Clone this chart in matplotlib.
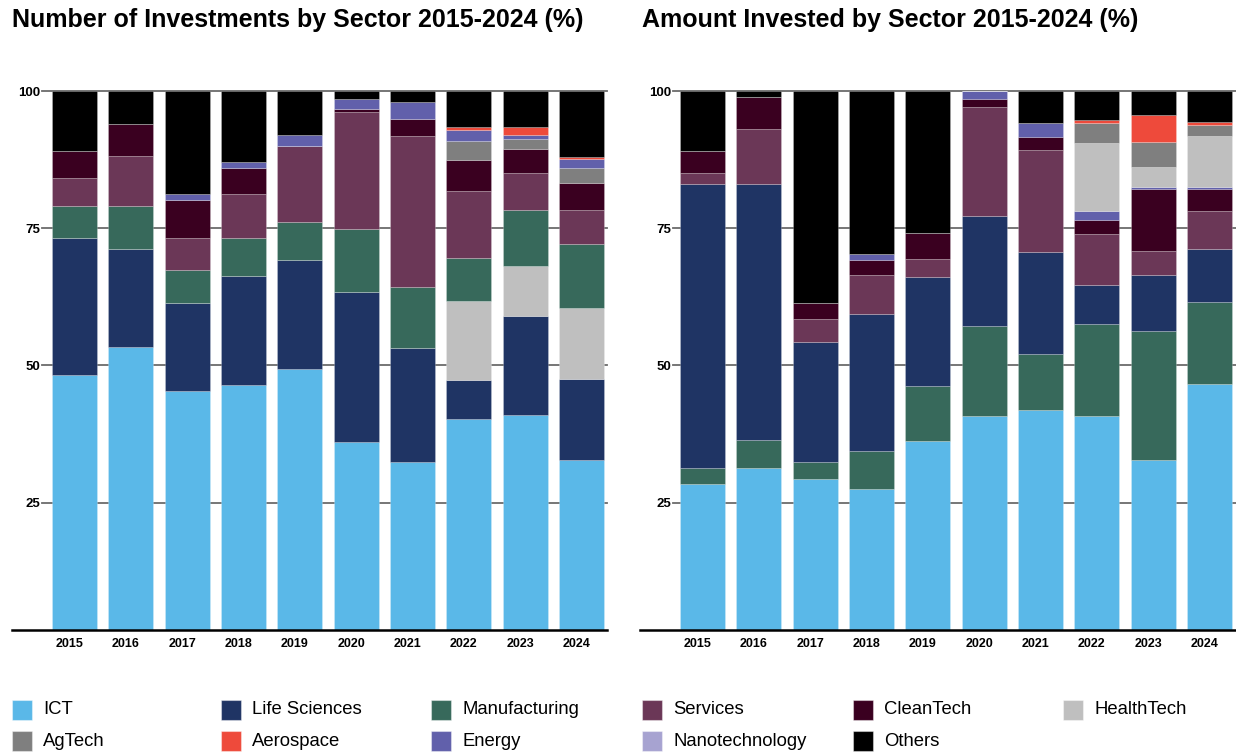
import matplotlib.pyplot as plt
import matplotlib.transforms as mtransforms
from matplotlib.patches import Rectangle
import numpy as np

plt.rcParams['font.family'] = ['Liberation Sans', 'DejaVu Sans']

years = ['2015', '2016', '2017', '2018', '2019', '2020', '2021', '2022', '2023', '2024']

colors = {
    'ICT': '#5ab8e8',
    'Life Sciences': '#1f3464',
    'Manufacturing': '#37695b',
    'Services': '#6b3757',
    'CleanTech': '#3a0020',
    'HealthTech': '#bfbfbf',
    'AgTech': '#7f7f7f',
    'Aerospace': '#ee4a3b',
    'Energy': '#6160ab',
    'Nanotechnology': '#a7a3d1',
    'Others': '#000000',
}

# share of number of investments, %
num_ict = [48.3, 53.3, 45.4, 46.4, 49.3, 36.0, 32.4, 40.3, 40.9, 32.7]
num_life = [24.9, 17.9, 15.9, 19.9, 19.9, 27.3, 20.8, 7.1, 18.1, 14.9]
num_health = [0, 0, 0, 0, 0, 0, 0, 14.4, 9.1, 12.9]
num_manuf = [5.9, 7.9, 6.0, 6.9, 7.0, 11.5, 11.1, 7.8, 10.2, 11.6]
num_serv = [5.1, 9.0, 6.0, 8.0, 13.8, 21.3, 27.5, 12.2, 6.8, 6.2]
num_clean = [4.9, 5.9, 6.8, 4.8, 0, 0.6, 3.1, 5.6, 4.4, 4.9]
num_ag = [0, 0, 0, 0, 0, 0, 0, 3.5, 1.7, 2.8]
num_energy = [0, 0, 1.1, 1.0, 2.0, 1.9, 3.1, 2.0, 0.8, 1.6]
num_aero = [0, 0, 0, 0, 0, 0, 0, 0.5, 1.4, 0.4]
num_other = [10.9, 6.0, 18.8, 13.0, 8.0, 1.4, 2.0, 6.6, 6.6, 12.0]

# share of amount invested, %
amt_ict = [28.4, 31.4, 29.4, 27.4, 36.3, 40.7, 41.9, 40.8, 32.7, 46.6]
amt_manuf = [3.0, 5.0, 3.0, 7.0, 10.0, 16.4, 10.2, 16.8, 23.5, 14.9]
amt_life = [51.7, 46.7, 21.9, 24.9, 19.9, 20.1, 18.5, 7.1, 10.2, 9.8]
amt_serv = [2.0, 10.0, 4.2, 7.1, 3.2, 19.8, 18.7, 9.2, 4.5, 6.8]
amt_clean = [4.0, 5.8, 2.9, 2.8, 4.8, 1.6, 2.4, 2.6, 11.3, 4.0]
amt_energy = [0, 0, 0, 1.1, 0, 1.4, 2.4, 1.6, 0.3, 0.4]
amt_health = [0, 0, 0, 0, 0, 0, 0, 12.4, 3.7, 9.3]
amt_ag = [0, 0, 0, 0, 0, 0, 0, 3.6, 4.5, 2.0]
amt_aero = [0, 0, 0, 0, 0, 0, 0, 0.6, 5.0, 0.6]
amt_other = [10.9, 1.1, 38.6, 29.7, 25.8, 0, 5.9, 5.3, 4.3, 5.6]

num_stack = [('ICT', num_ict), ('Life Sciences', num_life), ('HealthTech', num_health),
             ('Manufacturing', num_manuf), ('Services', num_serv), ('CleanTech', num_clean),
             ('AgTech', num_ag), ('Energy', num_energy), ('Aerospace', num_aero),
             ('Others', num_other)]
amt_stack = [('ICT', amt_ict), ('Manufacturing', amt_manuf), ('Life Sciences', amt_life),
             ('Services', amt_serv), ('CleanTech', amt_clean), ('Energy', amt_energy),
             ('HealthTech', amt_health), ('AgTech', amt_ag), ('Aerospace', amt_aero),
             ('Others', amt_other)]

W, H = 1236, 755
fig = plt.figure(figsize=(W / 100, H / 100), dpi=100)


def px_axes(x0, x1, ytop, ybot):
    return fig.add_axes([x0 / W, 1 - ybot / H, (x1 - x0) / W, (ybot - ytop) / H])


def draw_panel(ax, stack, xlim, base_left):
    x = np.arange(len(years))
    bottom = np.zeros(len(years))
    for name, vals in stack:
        vals = np.array(vals, dtype=float)
        ax.bar(x, vals, 0.8, bottom=bottom, color=colors[name],
               edgecolor=(1, 1, 1, 0.25), linewidth=0.6, zorder=2)
        bottom += vals
    for v in [25, 50, 75, 100]:
        ax.axhline(v, color='#6b6b6b', lw=1.3, zorder=0, clip_on=False)
    ax.plot([base_left, 1.0], [0, 0], transform=ax.transAxes, color='black',
            lw=1.8, clip_on=False, zorder=3)
    ax.set_xlim(*xlim)
    ax.set_ylim(1.8, 100)
    for s in ax.spines.values():
        s.set_visible(False)
    ax.set_yticks([25, 50, 75, 100])
    ax.set_yticklabels(['25', '50', '75', '100'], fontsize=9.5, fontweight='bold')
    ax.set_xticks(x)
    ax.set_xticklabels(years, fontsize=9, fontweight='bold')
    ax.tick_params(axis='y', length=0, pad=1.5)
    ax.tick_params(axis='x', length=0, pad=6)
    shift = mtransforms.ScaledTranslation(-5 / 100, 0, fig.dpi_scale_trans)
    for lab in ax.get_xticklabels():
        lab.set_transform(lab.get_transform() + shift)


ax1 = px_axes(42, 607, 91, 630)
draw_panel(ax1, num_stack, (-0.577, 9.453), (12 - 42) / 565)

ax2 = px_axes(673, 1236, 91, 630)
draw_panel(ax2, amt_stack, (-0.524, 9.47), (640 - 673) / 563)

fig.text(12 / W, 1 - 20 / H, 'Number of Investments by Sector 2015-2024 (%)',
         fontsize=18, fontweight='bold', va='center', ha='left')
fig.text(642 / W, 1 - 20 / H, 'Amount Invested by Sector 2015-2024 (%)',
         fontsize=18, fontweight='bold', va='center', ha='left')

# legend blocks, laid out in pixel positions
legend_items = [
    ('ICT', 12, 710), ('Life Sciences', 221, 710), ('Manufacturing', 431, 710),
    ('AgTech', 12, 741), ('Aerospace', 221, 741), ('Energy', 431, 741),
    ('Services', 642, 710), ('CleanTech', 853, 710), ('HealthTech', 1063, 710),
    ('Nanotechnology', 642, 741), ('Others', 853, 741),
]
for name, lx, ly in legend_items:
    fig.add_artist(Rectangle((lx / W, 1 - (ly + 10) / H), 20 / W, 20 / H,
                             transform=fig.transFigure, facecolor=colors[name],
                             edgecolor=(1, 1, 1, 0.4), linewidth=0.8))
    fig.text((lx + 31) / W, 1 - ly / H, name, fontsize=13.3, va='center', ha='left')

fig.savefig('out.png', dpi=100)
